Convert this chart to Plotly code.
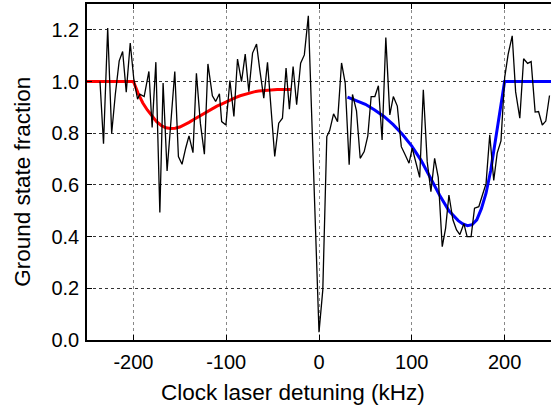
import plotly.graph_objects as go

# Measured data (black)
detuning_khz = [-236.0, -232.2, -227.7, -223.4, -219.5, -215.3, -211.6, -207.7, -203.4, -199.5,
                -195.5, -193.0, -188.4, -183.3, -179.8, -175.8, -171.5, -168.0, -163.7, -155.4,
                -151.5, -147.6, -143.6, -140.1, -135.8, -132.1, -127.8, -123.5, -119.7, -114.9,
                -111.4, -107.3, -104.9, -100.3, -96.0, -91.7, -87.8, -83.5, -79.5, -75.6,
                -71.6, -67.3, -63.8, -59.5, -55.5, -51.2, -47.7, -43.4, -39.4, -35.5,
                -31.9, -27.9, -24.1, -19.8, -15.8, -11.5, 0.0, 4.1, 8.4, 11.5,
                15.7, 20.0, 24.3, 28.2, 32.5, 36.1, 40.4, 44.4, 48.7, 52.6,
                56.2, 60.2, 64.0, 68.0, 72.0, 76.3, 80.1, 84.4, 88.7, 92.7,
                97.0, 100.5, 104.8, 108.5, 112.4, 116.6, 120.6, 124.6, 128.5, 132.8,
                136.4, 140.0, 144.3, 148.2, 151.8, 156.1, 159.6, 163.9, 167.6, 172.2,
                176.2, 180.0, 184.0, 188.3, 192.0, 196.1, 200.1, 203.8, 208.2, 211.9,
                216.4, 220.5, 224.8, 228.6, 232.9, 236.6, 240.6, 244.4, 248.4]
ground_fraction = [1.00, 0.759, 1.207, 0.80, 0.95, 1.08, 1.116, 0.959, 1.149, 1.007,
                   0.932, 0.951, 0.942, 1.039, 0.822, 1.075, 0.493, 0.994, 0.654, 1.039,
                   0.71, 0.68, 0.743, 0.79, 0.725, 1.032, 0.838, 0.719, 1.068, 0.945,
                   0.923, 0.953, 0.845, 0.832, 1.004, 0.865, 1.087, 1.0, 1.106, 0.961,
                   1.11, 1.145, 1.045, 0.936, 1.074, 0.858, 0.71, 0.839, 0.858, 1.052,
                   0.893, 1.058, 0.91, 1.071, 1.103, 1.254, 0.03, 0.194, 0.787, 0.81,
                   0.875, 0.845, 1.072, 0.995, 0.678, 0.95, 0.887, 0.703, 0.729, 0.79,
                   0.942, 0.942, 0.984, 0.774, 1.17, 0.871, 0.942, 0.905, 0.748, 0.718,
                   0.684, 0.742, 0.68, 0.629, 0.968, 0.69, 0.574, 0.703, 0.629, 0.361,
                   0.432, 0.561, 0.465, 0.426, 0.408, 0.45, 0.40, 0.40, 0.51, 0.516,
                   0.562, 0.605, 0.794, 0.617, 0.723, 0.77, 1.016, 1.105, 1.177, 0.96,
                   0.858, 1.088, 1.07, 1.077, 0.882, 0.884, 0.832, 0.847, 0.946]

# Red fit (lower sideband)
red_x = [-250, -200, -195, -190, -185, -180, -175, -170, -165, -160, -155, -150, -145,
         -140, -135, -130, -125, -120, -115, -110, -105, -100, -95, -90, -85, -80,
         -75, -70, -65, -60, -55, -50, -45, -40, -30]
red_y = [1.0, 1.0, 0.955, 0.918, 0.89, 0.866, 0.845, 0.830, 0.821, 0.818, 0.819, 0.824, 0.832,
         0.842, 0.853, 0.864, 0.875, 0.886, 0.896, 0.905, 0.913, 0.922, 0.930, 0.938, 0.945, 0.951,
         0.956, 0.960, 0.963, 0.965, 0.967, 0.968, 0.969, 0.969, 0.969]

# Blue fit (upper sideband)
blue_x = [30.7, 40, 50, 60, 70, 80, 90, 100, 110, 120, 130, 140, 150, 155, 160, 165,
          170, 175, 180, 185, 190, 195, 200, 250]
blue_y = [0.94, 0.928, 0.912, 0.89, 0.865, 0.833, 0.795, 0.75, 0.695, 0.628, 0.56, 0.50,
          0.462, 0.449, 0.442, 0.446, 0.465, 0.508, 0.568, 0.655, 0.772, 0.892, 1.0, 1.0]

x_ticks = [-200, -100, 0, 100, 200]
x_ticktext = ["-200", "-100", "0", "100", "200"]
y_ticks = [0.0, 0.2, 0.4, 0.6, 0.8, 1.0, 1.2]
y_ticktext = ["0.0", "0.2", "0.4", "0.6", "0.8", "1.0", "1.2"]
x_title = "Clock laser detuning (kHz)"
y_title = "Ground state fraction"

FONT = "Liberation Sans, Arial, Helvetica, sans-serif"

fig = go.Figure()
fig.add_trace(go.Scatter(x=red_x, y=red_y, mode="lines",
                         line=dict(color="#ff0000", width=3),
                         showlegend=False, hoverinfo="skip"))
fig.add_trace(go.Scatter(x=blue_x, y=blue_y, mode="lines",
                         line=dict(color="#0000ff", width=3),
                         showlegend=False, hoverinfo="skip"))
fig.add_trace(go.Scatter(x=detuning_khz, y=ground_fraction, mode="lines",
                         line=dict(color="#000000", width=1.3),
                         showlegend=False))

fig.update_layout(
    width=551, height=407,
    margin=dict(l=87, r=0, t=4, b=67, autoexpand=False),
    paper_bgcolor="white", plot_bgcolor="white",
    font=dict(family=FONT, size=20, color="black"),
    xaxis=dict(
        range=[-250, 250], tickvals=x_ticks, ticktext=x_ticktext,
        showgrid=True, gridcolor="#888888", griddash="dot", gridwidth=1,
        zeroline=False, showline=True, linecolor="black", linewidth=1.5,
        mirror="ticks", ticks="inside", ticklen=5, tickcolor="black",
        automargin=False, ticklabelstandoff=3,
    ),
    yaxis=dict(
        range=[0, 1.3], tickvals=y_ticks, ticktext=y_ticktext,
        showgrid=True, gridcolor="#333333", griddash="dot", gridwidth=1,
        zeroline=False, showline=True, linecolor="black", linewidth=1.5,
        ticks="inside", ticklen=5, tickcolor="black",
        automargin=False, ticklabelstandoff=2,
    ),
    yaxis2=dict(
        range=[0, 1.3], tickvals=y_ticks, overlaying="y", side="right", anchor="x",
        showgrid=False, zeroline=False, showline=False, showticklabels=False,
        ticks="inside", ticklen=5, tickcolor="black", automargin=False,
    ),
    annotations=[
        dict(text=x_title, xref="paper", yref="paper", x=0.444, y=-0.155,
             xanchor="center", yanchor="middle", showarrow=False,
             font=dict(family=FONT, size=22.5, color="black")),
        dict(text=y_title, xref="paper", yref="paper", x=-0.1407, y=0.47,
             xanchor="center", yanchor="middle", showarrow=False, textangle=-90,
             font=dict(family=FONT, size=22.5, color="black")),
    ],
)

fig.write_html("out.html", config={"displayModeBar": False},
               post_script="document.body.style.margin='0';document.body.style.overflow='hidden';")
